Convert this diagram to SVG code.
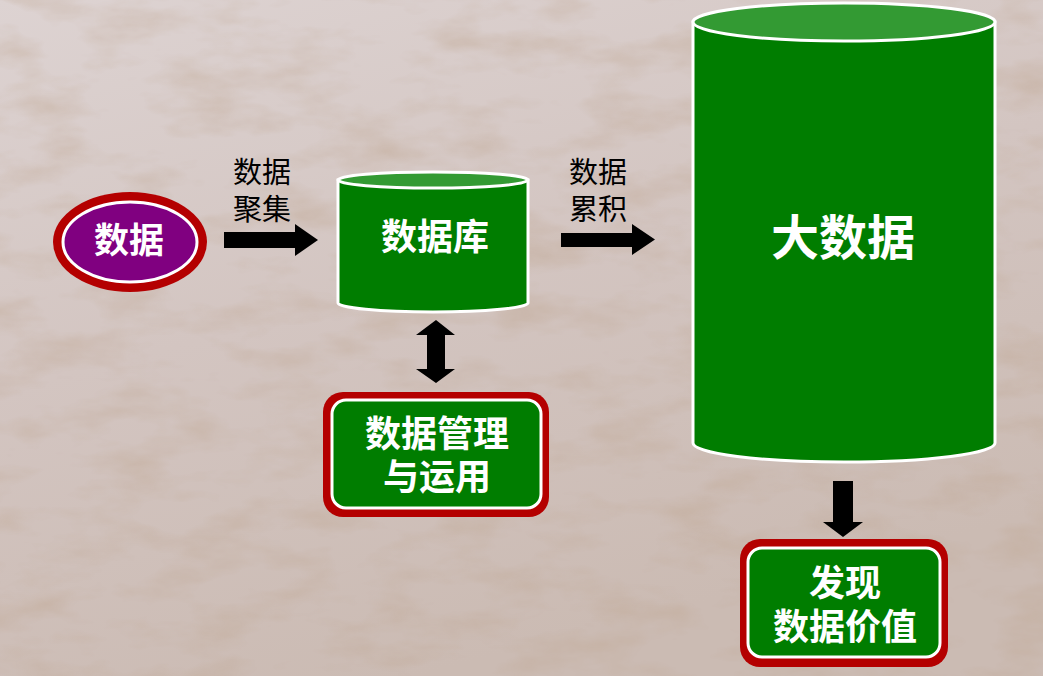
<svg xmlns="http://www.w3.org/2000/svg" width="1043" height="676" viewBox="0 0 1043 676">
  <defs>
    <style>
      .lbl { font-family: "Noto Sans CJK SC", "Noto Sans", sans-serif; font-size: 29px; fill: #000; text-anchor: middle; }
      .wt { font-family: "Noto Sans CJK SC", "Noto Sans", sans-serif; font-weight: bold; fill: #fff; text-anchor: middle; }
      .arrow { fill: #000; }
      .body { fill: #007d00; stroke: #fff; stroke-width: 3; }
      .cap { fill: #339a33; stroke: #fff; stroke-width: 3; }
      .frame { fill: #b40000; }
      .inner { fill: #007d00; stroke: #fff; stroke-width: 3; }
    </style>
    <linearGradient id="bgGrad" x1="0" y1="0" x2="0.4" y2="1">
      <stop offset="0" stop-color="#ddd3d2"/>
      <stop offset="0.5" stop-color="#d3c5c1"/>
      <stop offset="1" stop-color="#cbbbb3"/>
    </linearGradient>
    <filter id="grain" x="0" y="0" width="100%" height="100%">
      <feTurbulence type="fractalNoise" baseFrequency="0.012 0.03" numOctaves="4" seed="7"/>
      <feColorMatrix type="matrix" values="0 0 0 0 0.52  0 0 0 0 0.38  0 0 0 0 0.28  0 0 0 1.8 -0.8"/>
    </filter>
  </defs>

  <!-- backdrop -->
  <rect width="1043" height="676" fill="url(#bgGrad)"/>
  <rect width="1043" height="676" filter="url(#grain)" opacity="0.5"/>

  <!-- connectors -->
  <g id="connectors">
    <polygon class="arrow" points="224,232 295,232 295,224 318,240 295,256 295,248 224,248"/>
    <text class="lbl" x="262" y="183">数据<tspan x="262" dy="37">聚集</tspan></text>
    <polygon class="arrow" points="561,233 632,233 632,224 655,239.5 632,255 632,247 561,247"/>
    <text class="lbl" x="598" y="183">数据<tspan x="598" dy="37">累积</tspan></text>
    <polygon class="arrow" points="436,320 455,335 445,335 445,369 455,369 436,383 416,369 427,369 427,335 416,335"/>
    <polygon class="arrow" points="833,481 853,481 853,522 863,522 843,537 823,522 833,522"/>
  </g>

  <!-- source data -->
  <g id="node-data">
    <ellipse cx="130" cy="242" rx="77" ry="50" class="frame"/>
    <ellipse cx="130" cy="242" rx="67" ry="40" fill="#800080" stroke="#fff" stroke-width="3"/>
    <text class="wt" x="129" y="253" font-size="35" font-weight="normal">数据</text>
  </g>

  <!-- database -->
  <g id="node-database">
    <path class="body" d="M338,180 L338,303 A95,9 0 0 0 528,303 L528,180 Z"/>
    <ellipse class="cap" cx="433" cy="180" rx="95" ry="8"/>
    <text class="wt" x="435" y="250" font-size="36">数据库</text>
  </g>

  <!-- big data -->
  <g id="node-bigdata">
    <path class="body" d="M693,22 L693,443 A151,19 0 0 0 995,443 L995,22 Z"/>
    <ellipse class="cap" cx="844" cy="22" rx="151" ry="19"/>
    <text class="wt" x="843" y="255" font-size="48">大数据</text>
  </g>

  <!-- management -->
  <g id="node-manage">
    <rect class="frame" x="323" y="392" width="226" height="125" rx="20"/>
    <rect class="inner" x="332" y="400" width="209" height="108" rx="14"/>
    <text class="wt" x="437" y="447" font-size="36">数据管理<tspan x="437" dy="43">与运用</tspan></text>
  </g>

  <!-- value -->
  <g id="node-value">
    <rect class="frame" x="740" y="539" width="208" height="128" rx="20"/>
    <rect class="inner" x="748" y="548" width="192" height="109" rx="14"/>
    <text class="wt" x="845" y="596" font-size="36">发现<tspan x="845" dy="44">数据价值</tspan></text>
  </g>
</svg>
